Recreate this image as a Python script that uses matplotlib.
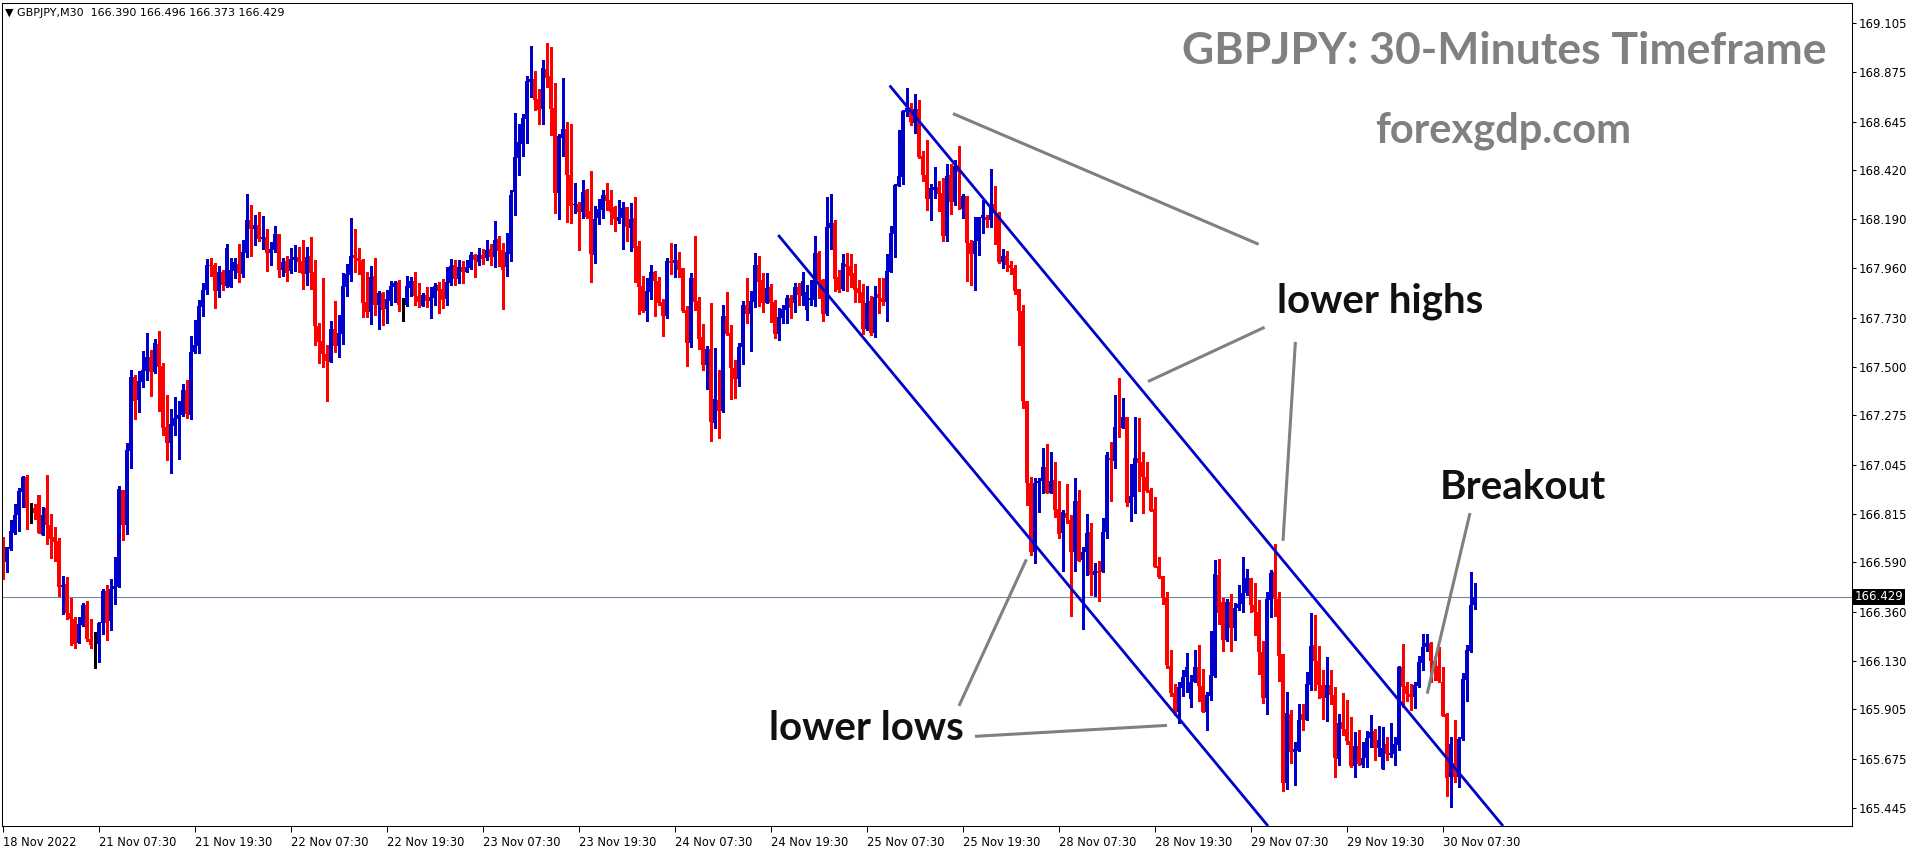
import numpy as np
import pandas as pd
import matplotlib
matplotlib.use("Agg")
import matplotlib.pyplot as plt

# M30 bar times, weekend skipped
times = pd.date_range("2022-11-18 19:30", "2022-11-30 11:30", freq="30min")
times = times[times.dayofweek < 5]

opens = [
    166.682, 166.593, 166.651, 166.728, 166.811, 166.919, 166.989, 166.842, 166.842, 166.904,
    166.717, 166.842, 166.764, 166.710, 166.691, 166.477, 166.489, 166.352, 166.326, 166.212,
    166.298, 166.391, 166.233, 166.203, 166.208, 166.309, 166.456, 166.318, 166.464, 166.473,
    166.927, 166.764, 167.111, 167.454, 167.347, 167.432, 167.484, 167.547, 167.476, 167.608,
    167.505, 167.221, 167.148, 167.226, 167.257, 167.277, 167.393, 167.277, 167.571, 167.600,
    167.782, 167.860, 167.977, 167.977, 167.857, 167.944, 167.879, 167.876, 167.950, 167.981,
    167.935, 168.034, 168.186, 168.144, 168.163, 168.098, 168.107, 168.034, 168.047, 168.121,
    167.953, 167.995, 167.946, 168.000, 168.012, 167.995, 167.936, 168.019, 167.944, 167.692,
    167.622, 167.563, 167.526, 167.678, 167.599, 167.655, 167.876, 167.930, 168.023, 168.009,
    168.000, 167.804, 167.759, 167.925, 167.790, 167.846, 167.773, 167.810, 167.876, 167.897,
    167.798, 167.790, 167.871, 167.902, 167.832, 167.787, 167.837, 167.810, 167.824, 167.883,
    167.865, 167.820, 167.891, 167.977, 167.911, 167.967, 167.945, 167.964, 168.023, 167.991,
    168.023, 168.011, 168.051, 168.015, 168.096, 168.046, 167.969, 168.028, 168.317, 168.475,
    168.541, 168.657, 168.830, 168.844, 168.750, 168.704, 168.890, 168.858, 168.708, 168.312,
    168.569, 168.611, 168.396, 168.258, 168.262, 168.224, 168.326, 168.228, 168.023, 168.196,
    168.233, 168.303, 168.280, 168.247, 168.182, 168.196, 168.247, 168.149, 168.196, 168.065,
    167.879, 167.762, 167.851, 167.944, 167.902, 167.804, 167.739, 167.995, 167.986, 168.000,
    167.963, 167.767, 167.613, 167.916, 167.809, 167.641, 167.510, 167.585, 167.240, 167.347,
    167.296, 167.739, 167.660, 167.496, 167.445, 167.594, 167.790, 167.748, 167.804, 167.977,
    167.907, 167.798, 167.874, 167.804, 167.655, 167.729, 167.767, 167.823, 167.798, 167.874,
    167.832, 167.767, 167.813, 167.812, 168.032, 167.907, 167.748, 168.149, 168.172, 167.921,
    167.865, 167.981, 167.973, 167.939, 167.869, 167.851, 167.678, 167.809, 167.660, 167.841,
    167.823, 167.804, 167.944, 168.121, 168.346, 168.388, 168.691, 168.707, 168.640, 168.704,
    168.485, 168.396, 168.284, 168.326, 168.340, 168.312, 168.112, 168.396, 168.270, 168.438,
    168.238, 168.298, 168.079, 168.028, 168.090, 168.196, 168.200, 168.186, 168.261, 168.217,
    167.990, 168.020, 167.975, 167.960, 167.865, 167.764, 167.340, 166.959, 166.640, 166.959,
    166.967, 167.036, 166.915, 166.974, 166.839, 166.726, 166.819, 166.788, 166.640, 166.876,
    166.601, 166.637, 166.732, 166.531, 166.550, 166.547, 166.732, 167.078, 167.064, 167.218,
    167.215, 167.270, 166.866, 166.897, 167.078, 167.060, 166.990, 166.928, 166.838, 166.575,
    166.527, 166.426, 166.107, 165.980, 165.894, 166.003, 166.054, 165.952, 166.034, 166.101,
    166.014, 165.894, 165.969, 166.061, 166.531, 166.404, 166.228, 166.404, 166.283, 166.376,
    166.395, 166.446, 166.516, 166.391, 166.360, 166.174, 165.959, 166.415, 166.544, 166.421,
    166.161, 165.563, 165.883, 165.708, 165.712, 165.883, 165.855, 166.018, 166.205, 166.130,
    166.018, 165.959, 166.017, 165.973, 165.672, 165.846, 165.813, 165.756, 165.642, 165.734,
    165.646, 165.677, 165.770, 165.806, 165.723, 165.625, 165.742, 165.692, 165.697, 165.739,
    166.104, 166.015, 165.978, 165.964, 166.015, 166.120, 166.197, 166.213, 166.132, 166.107,
    166.034, 165.882, 165.591, 165.653, 165.591, 165.765, 166.042, 166.177, 166.390,
]
highs = [
    166.707, 166.663, 166.787, 166.862, 166.938, 166.992, 166.997, 166.868, 166.862, 166.904,
    166.846, 166.997, 166.815, 166.753, 166.703, 166.526, 166.522, 166.425, 166.337, 166.337,
    166.399, 166.410, 166.326, 166.265, 166.313, 166.467, 166.484, 166.514, 166.616, 166.947,
    166.927, 167.145, 167.487, 167.463, 167.482, 167.575, 167.659, 167.580, 167.631, 167.668,
    167.521, 167.370, 167.305, 167.359, 167.342, 167.421, 167.440, 167.645, 167.720, 167.813,
    167.891, 168.005, 168.008, 167.984, 167.972, 167.953, 168.074, 168.008, 168.008, 168.074,
    168.093, 168.308, 168.256, 168.210, 168.225, 168.205, 168.144, 168.085, 168.158, 168.121,
    168.008, 168.020, 168.056, 168.070, 168.059, 168.093, 168.061, 168.107, 168.000, 167.705,
    167.916, 167.604, 167.716, 167.809, 167.744, 167.939, 167.981, 168.196, 168.144, 168.056,
    168.006, 167.944, 167.972, 168.009, 167.855, 167.851, 167.860, 167.902, 167.902, 167.907,
    167.823, 167.925, 167.921, 167.944, 167.893, 167.846, 167.874, 167.874, 167.893, 167.897,
    167.911, 167.967, 168.005, 168.000, 168.000, 167.995, 168.000, 168.037, 168.029, 168.056,
    168.051, 168.093, 168.074, 168.182, 168.112, 168.078, 168.126, 168.326, 168.685, 168.634,
    168.681, 168.858, 168.998, 168.881, 168.797, 168.932, 169.012, 168.993, 168.825, 168.587,
    168.848, 168.643, 168.634, 168.359, 168.270, 168.373, 168.331, 168.415, 168.252, 168.284,
    168.326, 168.359, 168.326, 168.252, 168.280, 168.270, 168.247, 168.266, 168.294, 168.088,
    167.925, 167.916, 167.977, 167.949, 167.921, 167.818, 168.009, 168.079, 168.074, 168.037,
    167.963, 167.785, 167.939, 168.112, 167.827, 167.701, 167.599, 167.799, 167.590, 167.487,
    167.790, 167.851, 167.697, 167.534, 167.613, 167.809, 167.914, 167.855, 168.032, 168.018,
    167.939, 167.939, 167.888, 167.813, 167.776, 167.790, 167.837, 167.837, 167.891, 167.891,
    167.944, 167.882, 167.907, 168.112, 168.042, 167.911, 168.294, 168.308, 168.186, 167.953,
    168.028, 168.032, 168.028, 167.981, 167.907, 167.888, 167.879, 167.832, 167.879, 167.918,
    167.918, 168.028, 168.158, 168.354, 168.606, 168.699, 168.800, 168.730, 168.774, 168.746,
    168.508, 168.559, 168.354, 168.433, 168.368, 168.382, 168.447, 168.447, 168.466, 168.531,
    168.308, 168.298, 168.093, 168.200, 168.202, 168.280, 168.210, 168.424, 168.345, 168.225,
    168.050, 168.040, 167.995, 167.975, 167.865, 167.790, 167.340, 166.987, 166.982, 166.985,
    167.122, 167.142, 167.103, 167.060, 166.970, 166.834, 166.954, 166.811, 166.982, 166.928,
    166.663, 166.814, 166.772, 166.586, 166.597, 166.796, 167.103, 167.150, 167.371, 167.451,
    167.358, 167.270, 167.047, 167.270, 167.265, 167.106, 167.060, 166.936, 166.893, 166.617,
    166.528, 166.451, 166.182, 166.022, 166.030, 166.088, 166.166, 166.065, 166.182, 166.205,
    166.092, 165.988, 166.270, 166.601, 166.604, 166.423, 166.418, 166.441, 166.399, 166.483,
    166.617, 166.558, 166.516, 166.492, 166.415, 166.224, 166.452, 166.555, 166.676, 166.452,
    166.161, 165.986, 165.902, 165.753, 165.930, 165.930, 166.078, 166.354, 166.345, 166.200,
    166.088, 166.151, 166.088, 166.011, 165.882, 165.980, 165.950, 165.871, 165.801, 165.809,
    165.754, 165.806, 165.879, 165.815, 165.829, 165.824, 165.778, 165.843, 165.778, 166.107,
    166.210, 166.034, 166.023, 166.034, 166.154, 166.256, 166.258, 166.219, 166.151, 166.197,
    166.101, 165.886, 165.774, 165.855, 165.774, 166.073, 166.205, 166.545, 166.496,
]
lows = [
    166.511, 166.546, 166.648, 166.721, 166.738, 166.850, 166.747, 166.775, 166.794, 166.728,
    166.717, 166.674, 166.612, 166.598, 166.433, 166.349, 166.324, 166.203, 166.192, 166.212,
    166.293, 166.225, 166.192, 166.099, 166.127, 166.254, 166.228, 166.275, 166.396, 166.473,
    166.694, 166.722, 167.031, 167.258, 167.292, 167.406, 167.440, 167.365, 167.474, 167.296,
    167.184, 167.067, 167.008, 167.184, 167.073, 167.274, 167.264, 167.260, 167.567, 167.567,
    167.739, 167.841, 167.925, 167.778, 167.829, 167.860, 167.876, 167.876, 167.914, 167.899,
    167.922, 168.015, 168.019, 168.070, 168.090, 168.051, 167.950, 167.974, 168.037, 167.922,
    167.925, 167.904, 167.941, 167.946, 167.942, 167.866, 167.883, 167.866, 167.601, 167.521,
    167.503, 167.344, 167.526, 167.573, 167.549, 167.608, 167.832, 167.902, 167.944, 167.935,
    167.736, 167.734, 167.703, 167.743, 167.680, 167.698, 167.708, 167.790, 167.804, 167.764,
    167.717, 167.785, 167.832, 167.790, 167.782, 167.785, 167.782, 167.731, 167.792, 167.754,
    167.778, 167.792, 167.883, 167.883, 167.893, 167.893, 167.944, 167.958, 167.921, 167.977,
    167.981, 168.000, 167.977, 167.969, 167.972, 167.773, 167.925, 167.997, 168.210, 168.396,
    168.485, 168.545, 168.761, 168.699, 168.634, 168.634, 168.806, 168.583, 168.219, 168.191,
    168.485, 168.177, 168.172, 168.219, 168.046, 168.197, 168.196, 167.897, 167.986, 168.168,
    168.196, 168.233, 168.168, 168.135, 168.172, 168.051, 168.088, 168.042, 167.897, 167.748,
    167.757, 167.715, 167.818, 167.739, 167.790, 167.646, 167.729, 167.935, 167.921, 167.921,
    167.757, 167.506, 167.594, 167.767, 167.585, 167.487, 167.398, 167.156, 167.217, 167.170,
    167.291, 167.650, 167.352, 167.357, 167.412, 167.515, 167.705, 167.577, 167.782, 167.785,
    167.759, 167.798, 167.711, 167.636, 167.627, 167.708, 167.705, 167.729, 167.759, 167.792,
    167.790, 167.720, 167.790, 167.785, 167.823, 167.717, 167.743, 168.053, 167.855, 167.851,
    167.860, 167.855, 167.874, 167.804, 167.804, 167.655, 167.673, 167.650, 167.641, 167.753,
    167.792, 167.717, 167.944, 168.015, 168.346, 168.354, 168.671, 168.629, 168.593, 168.475,
    168.368, 168.233, 168.186, 168.289, 168.228, 168.090, 168.090, 168.214, 168.255, 168.238,
    168.196, 167.904, 167.883, 167.860, 168.023, 168.124, 168.155, 168.154, 168.073, 167.985,
    167.960, 167.950, 167.935, 167.841, 167.604, 167.308, 166.858, 166.625, 166.586, 166.827,
    166.912, 166.912, 166.912, 166.803, 166.702, 166.552, 166.772, 166.342, 166.550, 166.597,
    166.278, 166.531, 166.438, 166.433, 166.412, 166.547, 166.705, 166.878, 167.032, 167.176,
    167.215, 166.853, 166.785, 166.822, 166.923, 166.822, 166.920, 166.828, 166.567, 166.516,
    166.395, 166.099, 165.969, 165.879, 165.840, 165.969, 165.988, 165.914, 166.030, 165.946,
    165.894, 165.809, 165.949, 166.054, 166.303, 166.179, 166.225, 166.179, 166.228, 166.368,
    166.360, 166.438, 166.360, 166.252, 166.070, 165.933, 165.882, 166.337, 166.340, 166.039,
    165.523, 165.532, 165.653, 165.554, 165.712, 165.809, 165.855, 165.995, 165.995, 165.956,
    165.862, 165.852, 165.931, 165.591, 165.646, 165.785, 165.743, 165.635, 165.588, 165.646,
    165.638, 165.638, 165.731, 165.669, 165.687, 165.625, 165.669, 165.681, 165.646, 165.716,
    165.917, 165.946, 165.902, 165.910, 166.011, 166.089, 166.179, 166.034, 166.042, 166.034,
    165.876, 165.503, 165.451, 165.568, 165.545, 165.762, 165.945, 166.174, 166.373,
]
closes = [
    166.593, 166.660, 166.736, 166.811, 166.924, 166.989, 166.845, 166.842, 166.822, 166.728,
    166.811, 166.764, 166.699, 166.685, 166.477, 166.484, 166.352, 166.324, 166.208, 166.303,
    166.391, 166.233, 166.203, 166.203, 166.309, 166.456, 166.309, 166.464, 166.480, 166.932,
    166.764, 167.114, 167.454, 167.344, 167.435, 167.487, 167.547, 167.479, 167.611, 167.502,
    167.218, 167.148, 167.235, 167.264, 167.277, 167.393, 167.283, 167.571, 167.603, 167.785,
    167.860, 167.977, 167.972, 167.857, 167.944, 167.885, 168.056, 167.953, 167.988, 167.941,
    168.037, 168.186, 168.144, 168.163, 168.098, 168.106, 168.034, 168.051, 168.121, 167.953,
    167.991, 167.941, 168.005, 168.012, 167.992, 167.935, 168.012, 167.941, 167.692, 167.618,
    167.563, 167.531, 167.678, 167.599, 167.660, 167.879, 167.935, 168.019, 168.008, 167.997,
    167.801, 167.759, 167.921, 167.790, 167.846, 167.767, 167.818, 167.879, 167.893, 167.792,
    167.798, 167.879, 167.902, 167.832, 167.806, 167.837, 167.810, 167.827, 167.879, 167.855,
    167.815, 167.897, 167.972, 167.911, 167.967, 167.944, 167.967, 168.023, 168.000, 168.023,
    168.006, 168.047, 168.014, 168.093, 168.043, 167.953, 168.037, 168.303, 168.480, 168.550,
    168.662, 168.834, 168.844, 168.746, 168.699, 168.895, 168.848, 168.704, 168.312, 168.578,
    168.611, 168.396, 168.252, 168.262, 168.224, 168.317, 168.200, 168.028, 168.191, 168.238,
    168.303, 168.275, 168.224, 168.191, 168.200, 168.242, 168.154, 168.191, 168.056, 167.874,
    167.762, 167.855, 167.944, 167.902, 167.799, 167.739, 167.995, 167.986, 168.000, 167.953,
    167.762, 167.613, 167.916, 167.804, 167.632, 167.510, 167.585, 167.245, 167.352, 167.296,
    167.739, 167.655, 167.496, 167.445, 167.594, 167.790, 167.748, 167.809, 167.977, 167.897,
    167.798, 167.869, 167.798, 167.655, 167.734, 167.771, 167.823, 167.776, 167.874, 167.837,
    167.902, 167.851, 167.823, 168.032, 167.907, 167.748, 168.154, 168.172, 167.911, 167.860,
    167.986, 167.967, 167.925, 167.860, 167.846, 167.678, 167.799, 167.660, 167.827, 167.823,
    167.806, 167.949, 168.126, 168.350, 168.391, 168.696, 168.707, 168.643, 168.705, 168.480,
    168.396, 168.284, 168.337, 168.340, 168.309, 168.112, 168.391, 168.270, 168.438, 168.412,
    168.298, 168.079, 168.028, 168.088, 168.202, 168.210, 168.186, 168.252, 168.238, 167.990,
    168.020, 167.975, 167.960, 167.857, 167.764, 167.340, 166.959, 166.640, 166.959, 166.970,
    167.033, 166.915, 166.970, 166.834, 166.721, 166.825, 166.796, 166.640, 166.876, 166.598,
    166.637, 166.726, 166.531, 166.550, 166.542, 166.732, 167.091, 167.068, 167.223, 167.215,
    167.270, 166.869, 166.900, 167.078, 167.055, 166.987, 166.925, 166.831, 166.570, 166.524,
    166.423, 166.112, 165.980, 165.890, 166.008, 166.054, 166.104, 166.034, 166.104, 166.014,
    165.894, 165.972, 166.065, 166.535, 166.353, 166.228, 166.404, 166.283, 166.376, 166.395,
    166.449, 166.516, 166.391, 166.360, 166.174, 165.956, 166.418, 166.539, 166.421, 166.155,
    165.560, 165.886, 165.708, 165.720, 165.854, 165.854, 166.022, 166.200, 166.132, 166.018,
    165.959, 166.018, 165.973, 165.677, 165.843, 165.815, 165.759, 165.642, 165.734, 165.649,
    165.677, 165.770, 165.801, 165.723, 165.762, 165.723, 165.697, 165.701, 165.742, 166.104,
    166.011, 165.977, 165.964, 166.018, 166.126, 166.197, 166.213, 166.132, 166.104, 166.039,
    165.876, 165.583, 165.742, 165.591, 165.767, 166.045, 166.182, 166.391, 166.429,
]

price_ticks = [169.105, 168.875, 168.645, 168.420, 168.190, 167.960, 167.730, 167.500, 167.275,
               167.045, 166.815, 166.590, 166.360, 166.130, 165.905, 165.675, 165.445]

# drawn objects, in (bar index, price)
channel_upper = [(221.65, 168.813), (375.0, 165.361)]
channel_lower = [(193.8, 168.116), (316.25, 165.361)]
pointers = [
    [(237.5, 168.682), (313.9, 168.073)],
    [(286.25, 167.433), (315.4, 167.686)],
    [(320.0, 166.690), (323.1, 167.618)],
    [(239.0, 165.921), (255.85, 166.604)],
    [(243.0, 165.779), (291.0, 165.830)],
    [(356.05, 165.978), (366.75, 166.820)],
]
notes = [("lower highs", 344.25, 167.806), ("lower lows", 215.75, 165.816), ("Breakout", 380.0, 166.940)]

BULL = "#0000CC"
BEAR = "#FF0000"

W, H = 1916, 850
fig = plt.figure(figsize=(W / 100, H / 100), dpi=100)
ax = fig.add_axes([2 / W, 1 - 826 / H, 1850 / W, 823.5 / H])

o = np.array(opens)
c = np.array(closes)
x = np.arange(len(o))
cols = np.where(c > o, BULL, np.where(c < o, BEAR, "#000000"))

ax.vlines(x, lows, highs, colors=cols, linewidth=0.8, antialiased=False)
body_lo = np.minimum(o, c)
body_h = np.maximum(np.abs(c - o), 0.003)
ax.bar(x, body_h, bottom=body_lo, width=0.8, color=cols, linewidth=0, antialiased=False)

ax.axhline(closes[-1], color="#7388A0", linewidth=0.8, zorder=0)

for seg in [channel_upper, channel_lower]:
    (x0, y0), (x1, y1) = seg
    ax.plot([x0, x1], [y0, y1], color=BULL, linewidth=2.0, solid_capstyle="butt")
for seg in pointers:
    (x0, y0), (x1, y1) = seg
    ax.plot([x0, x1], [y0, y1], color="#808080", linewidth=2.2, solid_capstyle="butt")

for txt, tx, ty in notes:
    ax.text(tx, ty, txt, fontsize=29, fontweight="bold", family="Lato",
            color="#111111", ha="center", va="center")

ax.set_xlim(-0.25, 462.25)
ax.set_ylim(165.361, 169.200)

# right price scale
ax.yaxis.tick_right()
ax.set_yticks(price_ticks)
ax.set_yticklabels([f"{v:.3f}" for v in price_ticks])
ax.tick_params(axis="y", direction="out", length=3, width=0.75, pad=1.5, labelsize=8.5, colors="black")

# time scale
tick_idx = [0] + [i for i, t in enumerate(times) if i > 0 and t.strftime("%H:%M") in ("07:30", "19:30")]
tick_lbl = [times[0].strftime("%d %b %Y")] + [times[i].strftime("%d %b %H:%M") for i in tick_idx[1:]]
ax.set_xticks(tick_idx)
ax.set_xticklabels(tick_lbl, ha="left")
ax.tick_params(axis="x", direction="out", length=4, width=0.75, pad=3, labelsize=8.3)

for s in ax.spines.values():
    s.set_linewidth(0.75)
    s.set_color("black")

ax.text(1.0015, closes[-1], f"{closes[-1]:.3f}", transform=ax.get_yaxis_transform(),
        ha="left", va="center", fontsize=8.5, color="white",
        bbox=dict(boxstyle="square,pad=0.12", facecolor="black", edgecolor="none"))

fig.text(5 / W, 1 - 13 / H, "\u25BC GBPJPY,M30  %.3f %.3f %.3f %.3f" % (opens[-1], highs[-1], lows[-1], closes[-1]),
         fontsize=8, va="center", ha="left")
fig.text(1504 / W, 1 - 51 / H, "GBPJPY: 30-Minutes Timeframe", fontsize=32, fontweight="bold",
         family="Lato", color="#808080", ha="center", va="center")
fig.text(1503 / W, 1 - 131 / H, "forexgdp.com", fontsize=30, fontweight="bold",
         family="Lato", color="#808080", ha="center", va="center")

fig.savefig("out.png", dpi=100)
